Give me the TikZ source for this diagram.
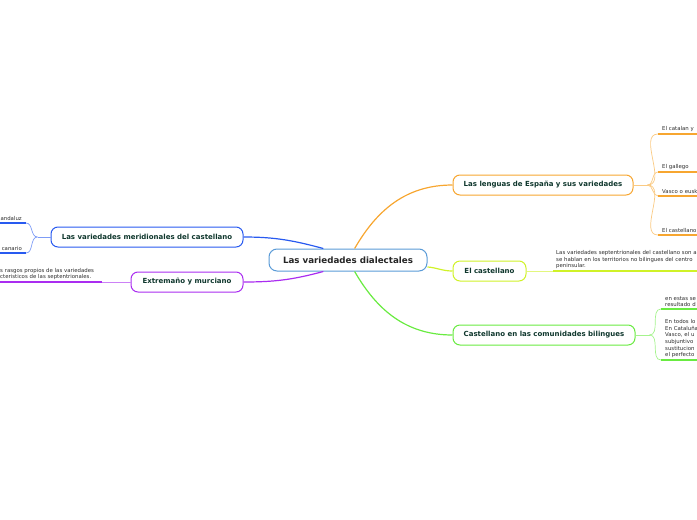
\documentclass[tikz,border=0pt]{standalone}
\usepackage{fontspec}
\setmainfont{DejaVu Sans}
\definecolor{hubblue}{RGB}{90,155,215}
\definecolor{langorange}{RGB}{247,166,48}
\definecolor{castlime}{RGB}{208,242,40}
\definecolor{bilgreen}{RGB}{105,235,65}
\definecolor{meridblue}{RGB}{40,90,240}
\definecolor{extrpurple}{RGB}{170,45,240}
\definecolor{labelgreen}{RGB}{15,55,45}
\definecolor{leafgray}{RGB}{45,45,45}
\usetikzlibrary{positioning}

\begin{document}
\begin{tikzpicture}[x=1pt, y=-1pt,
    hub/.style={draw=hubblue, line width=1pt, fill=white, rounded corners=8pt,
                minimum width=158pt, minimum height=22pt,
                font=\fontsize{8.7}{10}\selectfont\bfseries, text=black!85},
    topic/.style={draw=#1, line width=1pt, fill=white, rounded corners=7pt,
                minimum height=20pt, font=\fontsize{7}{8}\selectfont\bfseries,
                text=labelgreen},
    leaf/.style={font=\fontsize{5.4}{6.6}\selectfont, text=leafgray, align=left,
                inner xsep=4pt, inner ysep=2pt},
    link/.style={line width=1.2pt, color=#1},
    twig/.style={line width=0.7pt, color=#1!60},
    uline/.style={line width=1.8pt, color=#1},
  ]
    \useasboundingbox (0,0) rectangle (697,520);

    %% Central topic and main branches
    \node[hub] (hub) at (348,260) {Las variedades dialectales};

    \node[topic=langorange, minimum width=180pt] (lang) at (543,185)
      {Las lenguas de España y sus variedades};
    \node[topic=castlime, minimum width=73pt] (cast) at (489.5,271) {El castellano};
    \node[topic=bilgreen, minimum width=182pt] (bil) at (544,335)
      {Castellano en las comunidades bilingues};
    \node[topic=meridblue, minimum width=192pt] (merid) at (147,237)
      {Las variedades meridionales del castellano};
    \node[topic=extrpurple, minimum width=112pt] (extr) at (187,282)
      {Extremaño y murciano};

    \draw[link=langorange] (hub.60) to[out=60, in=180] (lang.west);
    \draw[link=castlime] (hub.-5) to[out=-5, in=180] (cast.west);
    \draw[link=bilgreen] (hub.-60) to[out=-60, in=180] (bil.west);
    \draw[link=meridblue] (hub.155) to[out=165, in=0] (merid.east);
    \draw[link=extrpurple] (hub.205) to[out=195, in=0] (extr.east);

    %% Lenguas de España: leaves on the right
    \node[leaf, text width=60pt, anchor=south west] (catalan) at (658,134) {El catalan y};
    \node[leaf, text width=60pt, anchor=south west] (gallego) at (658,172) {El gallego};
    \node[leaf, text width=60pt, anchor=south west] (vasco) at (658,196) {Vasco o eusk};
    \node[leaf, text width=60pt, anchor=south west] (castel) at (658,235) {El castellano};

    \draw[twig=langorange] (lang.east) -- ++(14,0) coordinate (lj);
    \foreach \lf in {catalan, gallego, vasco, castel} {
      \draw[twig=langorange] (lj) to[out=0, in=180] (\lf.south west);
      \draw[uline=langorange] (\lf.south west) -- (\lf.south east);
    }

    %% El castellano: one long leaf
    \node[leaf, text width=170pt, anchor=south west, inner xsep=3pt] (septen) at (553,271)
      {Las variedades septentrionales del castellano son a\\
       se hablan en los territorios no bilingues del centro\\
       peninsular.};
    \draw[twig=castlime] (cast.east) -- (septen.south west);
    \draw[uline=castlime] (septen.south west) -- (septen.south east);

    %% Comunidades bilingues
    \node[leaf, text width=60pt, anchor=south west] (estas) at (661,309)
      {en estas se\\resultado d};
    \node[leaf, text width=60pt, anchor=south west] (todos) at (661,360)
      {En todos lo\\En Cataluña\\Vasco, el u\\subjuntivo\\sustitucion\\el perfecto};

    \draw[twig=bilgreen] (bil.east) -- ++(14,0) coordinate (bj);
    \foreach \lf in {estas, todos} {
      \draw[twig=bilgreen] (bj) to[out=0, in=180] (\lf.south west);
      \draw[uline=bilgreen] (\lf.south west) -- (\lf.south east);
    }

    %% Meridionales: leaves on the left
    \node[leaf, text width=24pt, align=right, anchor=south east] (andaluz) at (26,223) {andaluz};
    \node[leaf, text width=24pt, align=right, anchor=south east] (canario) at (26,253) {canario};

    \draw[twig=meridblue] (merid.west) -- ++(-13,0) coordinate (mj);
    \foreach \lf in {andaluz, canario} {
      \draw[twig=meridblue] (mj) to[out=180, in=0] (\lf.south east);
      \draw[uline=meridblue] (\lf.south east) -- (\lf.south west);
    }

    %% Extremaño y murciano
    \node[leaf, text width=100pt, anchor=south west, inner xsep=2pt] (rasgos) at (-2,282)
      {s rasgos propios de las variedades\\cteristicos de las septentrionales.};
    \draw[uline=extrpurple] (rasgos.south west) -- (rasgos.south east);
    \draw[twig=extrpurple] (rasgos.south east) -- (extr.west);
  \end{tikzpicture}
\end{document}
